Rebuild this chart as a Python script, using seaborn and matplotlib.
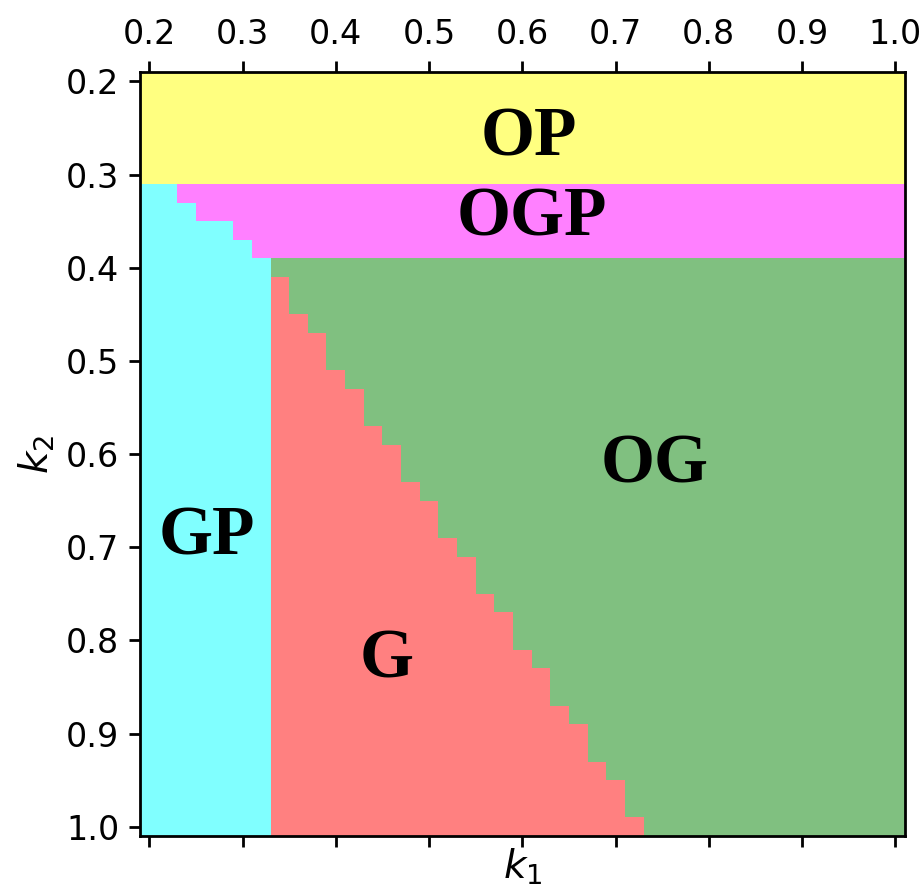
"""
Phase diagram in the (k1, k2) plane
"""
import matplotlib
matplotlib.use('Agg')
import matplotlib.pyplot as plt
from matplotlib.colors import ListedColormap
import seaborn as sns
import numpy as np

sns.set_style('ticks')
plt.rcParams['font.family'] = ['DejaVu Sans']
plt.rcParams['text.color'] = 'black'
plt.rcParams['axes.labelcolor'] = 'black'
plt.rcParams['xtick.color'] = 'black'
plt.rcParams['ytick.color'] = 'black'

# grid of the scan (step 0.02)
k1_vals = np.round(np.arange(0.20, 1.0001, 0.02), 2)
k2_vals = np.round(np.arange(0.20, 1.0001, 0.02), 2)

phase_names = ['OP', 'OGP', 'GP', 'G', 'OG']
phase_colors = ['#FFFF80', '#FF80FF', '#80FFFF', '#FF8080', '#80C080']

# OP for k2 <= 0.30, OGP band up to 0.38
op_k2_max = 0.30
ogp_k2_max = 0.38

# last GP column inside the OGP band
gp_band_k2 = [0.32, 0.34, 0.36, 0.38]
gp_band_k1_max = [0.22, 0.24, 0.28, 0.30]
# last GP column below the band
gp_k1_max = 0.32

# last G column for each row (G starts at k2 = 0.42)
g_k2 = [0.42, 0.44, 0.46, 0.48, 0.50, 0.52, 0.54, 0.56, 0.58, 0.60,
        0.62, 0.64, 0.66, 0.68, 0.70, 0.72, 0.74, 0.76, 0.78, 0.80,
        0.82, 0.84, 0.86, 0.88, 0.90, 0.92, 0.94, 0.96, 0.98, 1.00]
g_k1_max = [0.34, 0.34, 0.36, 0.38, 0.38, 0.40, 0.42, 0.42, 0.44, 0.46,
            0.46, 0.48, 0.50, 0.50, 0.52, 0.54, 0.54, 0.56, 0.58, 0.58,
            0.60, 0.62, 0.62, 0.64, 0.66, 0.66, 0.68, 0.70, 0.70, 0.72]

# label positions (k1, k2)
label_pos = {'OP': (0.607, 0.261), 'OGP': (0.61, 0.347), 'GP': (0.262, 0.689),
             'OG': (0.742, 0.612), 'G': (0.455, 0.822)}

tick_vals = [0.2, 0.3, 0.4, 0.5, 0.6, 0.7, 0.8, 0.9, 1.0]


def build_phase():
    band = dict(zip(gp_band_k2, gp_band_k1_max))
    gmax = dict(zip(g_k2, g_k1_max))
    phase = np.full((len(k2_vals), len(k1_vals)), 4)
    for j, k2 in enumerate(k2_vals):
        for i, k1 in enumerate(k1_vals):
            if k2 <= op_k2_max + 1e-9:
                phase[j, i] = 0
            elif k2 <= ogp_k2_max + 1e-9:
                phase[j, i] = 2 if k1 <= band[k2] + 1e-9 else 1
            elif k1 <= gp_k1_max + 1e-9:
                phase[j, i] = 2
            elif k2 in gmax and k1 <= gmax[k2] + 1e-9:
                phase[j, i] = 3
            else:
                phase[j, i] = 4
    return phase


def to_cell(k):
    # heatmap cell centre for a k value
    return (k - 0.2) / 0.02 + 0.5


phase = build_phase()

fig = plt.figure(figsize=(4.62, 4.455), dpi=200)
ax = fig.add_axes([0.1515, 0.0617, 0.8275, 0.8573])

sns.heatmap(phase, cmap=ListedColormap(phase_colors), vmin=-0.5, vmax=4.5,
            cbar=False, ax=ax, xticklabels=False, yticklabels=False)

for s in ax.spines.values():
    s.set_visible(True)
    s.set_color('black')
    s.set_linewidth(1.0)

ax.set_xticks([to_cell(t) for t in tick_vals])
ax.set_xticklabels([f'{t:.1f}' for t in tick_vals])
ax.set_yticks([to_cell(t) for t in tick_vals])
ax.set_yticklabels([f'{t:.1f}' for t in tick_vals], rotation=0)
ax.tick_params(axis='x', top=True, bottom=True, labeltop=True, labelbottom=False,
               length=4, width=1.0, labelsize=12, color='black', labelcolor='black',
               labelrotation=0)
ax.tick_params(axis='y', left=True, right=False, length=4, width=1.0,
               labelsize=12, color='black', labelcolor='black')

ax.set_xlabel('$k_1$', fontsize=14, labelpad=0)
ax.xaxis.set_label_position('bottom')
ax.set_ylabel('$k_2$', fontsize=14, labelpad=3)

for name, (x, y) in label_pos.items():
    ax.text(to_cell(x), to_cell(y), name, ha='center', va='center', color='black',
            fontsize=25, fontweight='bold', family=['Liberation Serif', 'DejaVu Serif'])

fig.savefig('out.png', dpi=200)
plt.close(fig)
